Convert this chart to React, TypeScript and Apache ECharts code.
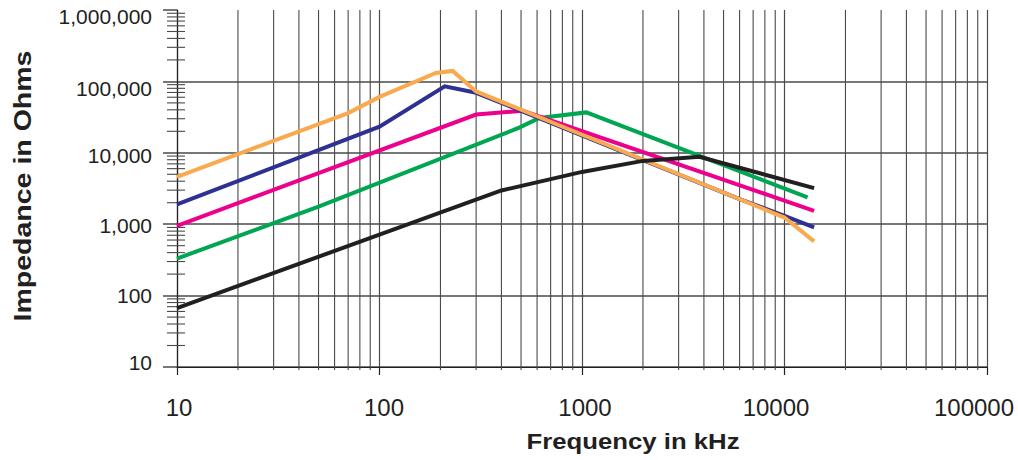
import React, { useEffect, useRef } from "react";
import * as echarts from "echarts";

// ---- data (frequency kHz, impedance Ohms) ----
const orangeSeries: [number, number][] = [
  [10, 4600], [70, 36000], [100, 60700], [190, 131000], [230, 140000],
  [300, 72400], [10000, 1240], [14000, 575],
];
const navySeries: [number, number][] = [
  [10, 1900], [100, 23200], [210, 85500], [300, 69300],
  [6000, 2245], [10000, 1310], [14000, 900],
];
const magentaSeries: [number, number][] = [
  [10, 950], [300, 34300], [510, 38800], [14000, 1540],
];
const greenSeries: [number, number][] = [
  [10, 330], [50, 1760], [490, 22500], [615, 30800], [1050, 36800], [13000, 2380],
];
const blackSeries: [number, number][] = [
  [10, 67], [400, 2970], [1000, 5400], [2000, 7700], [3800, 8800], [14000, 3200],
];

// ---- axis ticks ----
const X_MIN = 10;
const X_MAX = 100000;
const Y_MIN = 10;
const Y_MAX = 1000000;
const FREQ_DECADES = [10, 100, 1000, 10000];
const Z_DECADES = [10, 100, 1000, 10000, 100000];
const MINOR_MULTIPLIERS = [2, 3, 4, 5, 6, 7, 8, 9];
const X_MINOR = FREQ_DECADES.flatMap((d) => MINOR_MULTIPLIERS.map((m) => d * m));
const Y_MINOR = Z_DECADES.flatMap((d) => MINOR_MULTIPLIERS.map((m) => d * m));
// tick labels and the rich style each uses (the original labels sit slightly off their ticks)
const X_LABELS = ["10", "100", "1000", "10000", "100000"];
const X_LABEL_STYLES = ["a", "b", "c", "d", "e"];
const Y_LABELS = ["10", "100", "1,000", "10,000", "100,000", "1,000,000"];
const Y_LABEL_STYLES = ["f", "g", "h", "i", "j", "k"];

const X_TITLE = "Frequency in kHz";
const Y_TITLE = "Impedance in Ohms";

const FONT = "Arial, 'Liberation Sans', Helvetica, sans-serif";
const INK = "#231F20";
const GRID = "#4a4a4a";

export default function App() {
  const ref = useRef<HTMLDivElement>(null);

  useEffect(() => {
    if (!ref.current) return;
    const chart = echarts.init(ref.current, undefined, { renderer: "svg" });

    const lineSeries = (name: string, data: [number, number][], color: string, z: number) => ({
      name,
      type: "line",
      data,
      showSymbol: false,
      symbol: "none",
      z,
      lineStyle: { color, width: 4, cap: "butt", join: "miter" },
    });

    const xBase = { fontSize: 24, color: INK, fontFamily: FONT };
    const yBase = { fontSize: 21, color: INK, fontFamily: FONT };

    chart.setOption({
      animation: false,
      backgroundColor: "#ffffff",
      grid: {
        left: 177,
        right: 31,
        top: 10,
        bottom: 93,
        containLabel: false,
        outerBoundsMode: "none",
      },
      xAxis: {
        type: "log",
        logBase: 10,
        min: X_MIN,
        max: X_MAX,
        axisLine: { show: true, lineStyle: { color: INK, width: 1.2 } },
        axisTick: { show: true, length: 8, lineStyle: { color: INK, width: 1.2 } },
        axisLabel: {
          ...xBase,
          margin: 28,
          formatter: (v: number) => {
            const s = String(Math.round(v));
            const i = X_LABELS.indexOf(s);
            return i >= 0 ? `{${X_LABEL_STYLES[i]}|${s}}` : s;
          },
          rich: {
            a: { ...xBase, padding: [0, 0, 0, 4] },
            b: { ...xBase, padding: [0, 0, 0, 9] },
            c: { ...xBase, padding: [0, 0, 0, 6] },
            d: { ...xBase, padding: [0, 17, 0, 0] },
            e: { ...xBase, padding: [0, 26, 0, 0] },
          },
        },
        splitLine: { show: true, lineStyle: { color: GRID, width: 1.2 } },
        minorTick: { show: false },
      },
      yAxis: {
        type: "log",
        logBase: 10,
        min: Y_MIN,
        max: Y_MAX,
        axisLine: { show: true, lineStyle: { color: INK, width: 1.2 } },
        axisTick: { show: true, length: 14, lineStyle: { color: GRID, width: 1.5 } },
        axisLabel: {
          ...yBase,
          margin: 25,
          formatter: (v: number) => {
            const s = Math.round(v).toLocaleString("en-US");
            const i = Y_LABELS.indexOf(s);
            return i >= 0 ? `{${Y_LABEL_STYLES[i]}|${s}}` : s;
          },
          rich: {
            f: { ...yBase, padding: [0, 0, 10, 0] },
            g: { ...yBase, padding: [0, 0, 0, 0] },
            h: { ...yBase, padding: [2, 0, 0, 0] },
            i: { ...yBase, padding: [6, 0, 0, 0] },
            j: { ...yBase, padding: [14, 0, 0, 0] },
            k: { ...yBase, padding: [12, 0, 0, 0] },
          },
        },
        splitLine: { show: true, showMaxLine: false, lineStyle: { color: GRID, width: 1.5 } },
      },
      graphic: [
        {
          type: "text",
          x: 633,
          y: 441,
          scaleX: 1.12,
          style: {
            text: X_TITLE,
            font: `bold 23px ${FONT}`,
            fill: INK,
            textAlign: "center",
            textVerticalAlign: "middle",
          },
        },
        {
          type: "text",
          x: 23,
          y: 186,
          rotation: Math.PI / 2,
          scaleX: 1.24,
          style: {
            text: Y_TITLE,
            font: `bold 23px ${FONT}`,
            fill: INK,
            textAlign: "center",
            textVerticalAlign: "middle",
          },
        },
      ],
      series: [
        {
          name: "xMinorGrid",
          type: "custom",
          silent: true,
          z: 1,
          clip: false,
          data: X_MINOR.map((v) => [v, Y_MIN]),
          renderItem: (_params: any, api: any) => {
            const v = api.value(0);
            const top = api.coord([v, Y_MAX]);
            const bot = api.coord([v, Y_MIN]);
            return {
              type: "line",
              shape: { x1: top[0], y1: top[1], x2: bot[0], y2: bot[1] + 3 },
              style: { stroke: GRID, lineWidth: 1.1 },
            };
          },
        },
        {
          name: "yMinorTicks",
          type: "custom",
          silent: true,
          z: 1,
          clip: false,
          data: Y_MINOR.map((v) => [X_MIN, v]),
          renderItem: (_params: any, api: any) => {
            const p = api.coord([X_MIN, api.value(1)]);
            return {
              type: "line",
              shape: { x1: p[0] - 10, y1: p[1], x2: p[0] + 8, y2: p[1] },
              style: { stroke: GRID, lineWidth: 1.1 },
            };
          },
        },
        lineSeries("green", greenSeries, "#00A651", 3),
        lineSeries("magenta", magentaSeries, "#EC008C", 4),
        lineSeries("navy", navySeries, "#2E3192", 5),
        lineSeries("orange", orangeSeries, "#F9A94E", 6),
        lineSeries("black", blackSeries, INK, 7),
      ],
    });

    return () => chart.dispose();
  }, []);

  return (
    <div
      ref={ref}
      style={{ position: "absolute", left: 0, top: 0, width: 1018, height: 460 }}
    />
  );
}
